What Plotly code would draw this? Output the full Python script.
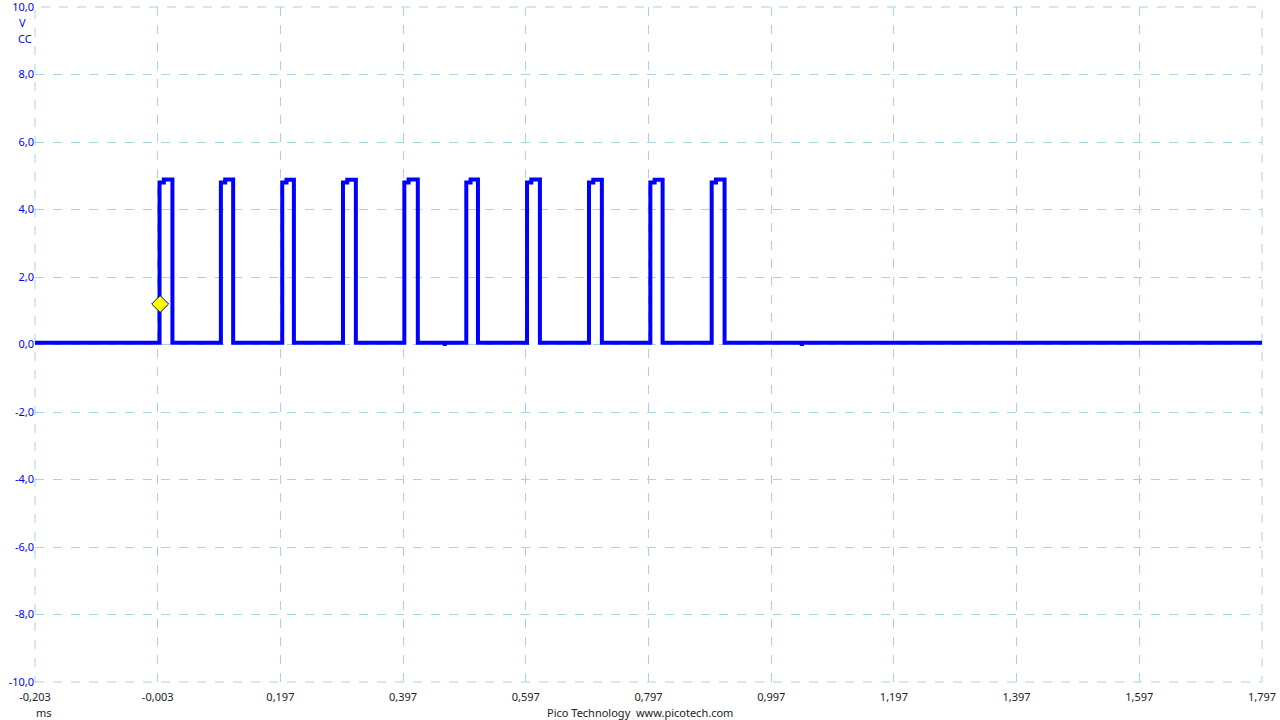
import plotly.graph_objects as go

# ---- data (time in ms, voltage in V) ----
rise_ms = [0.000, 0.100, 0.200, 0.299, 0.399, 0.500, 0.599, 0.700, 0.800, 0.900]
step_ms = [0.007, 0.107, 0.207, 0.306, 0.406, 0.507, 0.606, 0.707, 0.807, 0.907]
fall_ms = [0.021, 0.120, 0.219, 0.320, 0.421, 0.519, 0.620, 0.721, 0.820, 0.921]
high_first_v = [4.80, 4.80, 4.80, 4.80, 4.80, 4.80, 4.80, 4.80, 4.80, 4.80]
high_v = [4.89, 4.89, 4.88, 4.88, 4.89, 4.89, 4.89, 4.88, 4.88, 4.89]
low_v = 0.05
glitch_ms = [0.465, 1.047]
glitch_v = [-0.03, -0.03]
t_start, t_end = -0.203, 1.797
v_min, v_max = -10, 10
trigger_ms, trigger_v = 0.001, 1.2

x_ticks = [-0.203, -0.003, 0.197, 0.397, 0.597, 0.797, 0.997, 1.197, 1.397, 1.597, 1.797]
x_labels = ["-0,203", "-0,003", "0,197", "0,397", "0,597", "0,797", "0,997", "1,197", "1,397", "1,597", "1,797"]
y_ticks = [-10, -8, -6, -4, -2, 0, 2, 4, 6, 8, 10]
y_labels = ["-10,0", "-8,0", "-6,0", "-4,0", "-2,0", "0,0", "2,0", "4,0", "6,0", "8,0", "10,0"]

# ---- build the step waveform ----
base = [(t_start, low_v)]
for r, s, f, h1, h in zip(rise_ms, step_ms, fall_ms, high_first_v, high_v):
    base += [(r, low_v), (r, h1), (s, h1), (s, h), (f, h), (f, low_v)]
gl = []
for g, gv in zip(glitch_ms, glitch_v):
    gl += [(g - 0.001, low_v), (g, gv), (g + 0.001, low_v)]
wave_x, wave_y = [], []
i = j = 0
while i < len(base) or j < len(gl):
    if j < len(gl) and (i >= len(base) or gl[j][0] < base[i][0]):
        wave_x.append(gl[j][0]); wave_y.append(gl[j][1]); j += 1
    else:
        wave_x.append(base[i][0]); wave_y.append(base[i][1]); i += 1
wave_x.append(t_end); wave_y.append(low_v)

BLUE = "#0000ff"
GRID = "#a9d3df"
FONT = "Noto Sans"
PH = 720 - 7 - 38  # plot height in px

fig = go.Figure()
fig.add_trace(go.Scatter(x=wave_x, y=wave_y, mode="lines",
                         line=dict(color=BLUE, width=4), hoverinfo="skip", showlegend=False))
fig.add_trace(go.Scatter(x=[trigger_ms], y=[trigger_v], mode="markers",
                         marker=dict(symbol="diamond", size=13, color="#ffff00",
                                     line=dict(color="#000080", width=1)),
                         showlegend=False))

# dashed border (grid lines at the range edges)
fig.add_shape(type="rect", xref="paper", yref="paper", x0=0, y0=0, x1=1, y1=1,
              line=dict(color=GRID, width=1, dash="dash"), layer="below")

fig.update_layout(
    width=1280, height=720,
    margin=dict(l=35, r=18, t=7, b=38),
    paper_bgcolor="white", plot_bgcolor="white",
    font=dict(family=FONT, size=11, color="#222222"),
    xaxis=dict(range=[t_start, t_end], tickvals=x_ticks, ticktext=x_labels,
               showgrid=True, gridcolor=GRID, griddash="dash", gridwidth=1,
               zeroline=False, showline=False, ticks="", ticklabelstandoff=7,
               automargin=False,
               tickfont=dict(family=FONT, size=11, color="#222222")),
    yaxis=dict(range=[v_min, v_max], tickvals=y_ticks, ticktext=y_labels,
               showgrid=True, gridcolor=GRID, griddash="dash", gridwidth=1,
               zeroline=False, showline=False, ticks="", ticklabeloverflow="allow",
               automargin=False,
               tickfont=dict(family=FONT, size=11, color=BLUE)),
    annotations=[
        dict(text="V", xref="paper", yref="paper", x=-13 / 1227, y=1 - 15 / PH,
             xanchor="center", yanchor="middle", showarrow=False,
             font=dict(family=FONT, size=11, color=BLUE)),
        dict(text="CC", xref="paper", yref="paper", x=-10 / 1227, y=1 - 31 / PH,
             xanchor="center", yanchor="middle", showarrow=False,
             font=dict(family=FONT, size=11, color=BLUE)),
        dict(text="ms", xref="paper", yref="paper", x=9 / 1227, y=-30 / PH,
             xanchor="center", yanchor="middle", showarrow=False,
             font=dict(family=FONT, size=11, color="#222222")),
        dict(text="Pico Technology  www.picotech.com", xref="paper", yref="paper",
             x=(640 - 35) / 1227, y=-30 / PH, xanchor="center", yanchor="middle",
             showarrow=False, font=dict(family=FONT, size=11, color="#222222")),
    ],
)

fig.write_html("out.html")
